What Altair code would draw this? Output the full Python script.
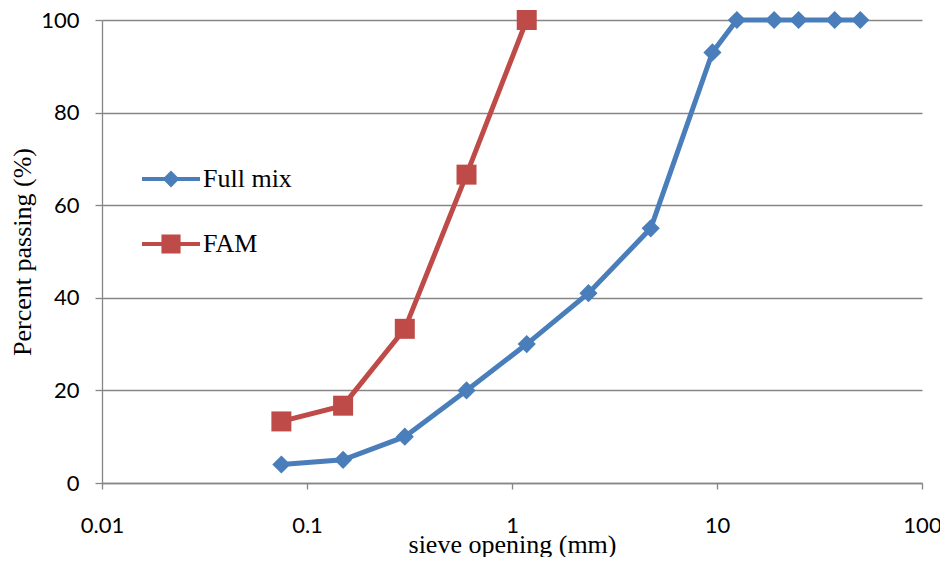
import altair as alt
import pandas as pd

sieve_full = [0.075, 0.15, 0.3, 0.6, 1.18, 2.36, 4.75, 9.5, 12.5, 19, 25, 37.5, 50]
pass_full = [4, 5, 10, 20, 30, 41, 55, 93, 100, 100, 100, 100, 100]
sieve_fam = [0.075, 0.15, 0.3, 0.6, 1.18]
pass_fam = [13.3, 16.7, 33.3, 66.6, 100]
series = ["Full mix", "FAM"]
colors = ["#4A7EBB", "#BE4B48"]
x_ticks = [0.01, 0.1, 1, 10, 100]
y_ticks = [0, 20, 40, 60, 80, 100]

df = pd.concat([
    pd.DataFrame({"sieve": sieve_full, "passing": pass_full, "series": "Full mix"}),
    pd.DataFrame({"sieve": sieve_fam, "passing": pass_fam, "series": "FAM"}),
])

TICK_FONT = "Lato"
SERIF = "Liberation Serif"

x_enc = alt.X("sieve:Q", scale=alt.Scale(type="log", domain=[0.01, 100], nice=False),
              axis=alt.Axis(values=x_ticks, title="sieve opening (mm)", grid=False,
                            labelExpr="datum.value >= 1 ? format(datum.value, 'd') : format(datum.value, '')",
                            labelFont=TICK_FONT, labelFontSize=22, labelColor="#000",
                            labelPadding=26, tickSize=6, tickColor="#868686", domainColor="#868686",
                            titleFont=SERIF, titleFontSize=26, titleFontWeight="normal", titleColor="#000",
                            titlePadding=-5, labelFlush=False))
y_enc = alt.Y("passing:Q", scale=alt.Scale(domain=[0, 100], nice=False),
              axis=alt.Axis(values=y_ticks, title="Percent passing (%)", grid=True, gridColor="#868686",
                            gridWidth=1.3, labelFont=TICK_FONT, labelFontSize=22, labelColor="#000",
                            labelPadding=16, tickSize=7, tickColor="#868686", domainColor="#868686",
                            titleFont=SERIF, titleFontSize=26, titleFontWeight="normal", titleColor="#000",
                            titlePadding=5))

# line/marker colour scale (domain listed in a different order than the legend scales,
# so that its hidden legend is not merged with the visible one)
color_scale = alt.Scale(domain=series[::-1], range=colors[::-1])

lines = alt.Chart(df).mark_line(strokeWidth=5).encode(
    x=x_enc, y=y_enc,
    color=alt.Color("series:N", scale=color_scale, legend=None),
    detail="series:N",
)

pts_full = alt.Chart(df).transform_filter(alt.datum.series == "Full mix").mark_point(
    filled=True, shape="diamond", size=330, opacity=1).encode(
    x="sieve:Q", y="passing:Q",
    color=alt.Color("series:N", scale=color_scale, legend=None))

pts_fam = alt.Chart(df).transform_filter(alt.datum.series == "FAM").mark_point(
    filled=True, shape="square", size=400, opacity=1).encode(
    x="sieve:Q", y="passing:Q",
    color=alt.Color("series:N", scale=color_scale, legend=None))

diamond_path = "M-1,-0.07L1,-0.07L1,0.07L-1,0.07Z M0,-0.29L0.29,0L0,0.29L-0.29,0Z"
square_path = "M-1,-0.07L1,-0.07L1,0.07L-1,0.07Z M-0.33,-0.33L0.33,-0.33L0.33,0.33L-0.33,0.33Z"

leg = alt.Legend(orient="none", legendX=40, legendY=130, symbolSize=3364,
                 labelFont=SERIF, labelFontSize=26, labelColor="#000",
                 labelOffset=3, rowPadding=23, padding=0, symbolStrokeWidth=0,
                 symbolOpacity=1)

legend_layer = alt.Chart(df).mark_point(filled=True, size=0).encode(
    x="sieve:Q", y="passing:Q",
    fill=alt.Fill("series:N", scale=alt.Scale(domain=series, range=colors), title=None, legend=leg),
    shape=alt.Shape("series:N", scale=alt.Scale(domain=series, range=[diamond_path, square_path]),
                    title=None, legend=leg),
)

chart = alt.layer(lines, pts_full, pts_fam, legend_layer).properties(
    width=820, height=463,
    padding={"left": 94, "top": 12, "right": 18, "bottom": 74},
    autosize=alt.AutoSizeParams(type="none"),
).configure_view(stroke=None).configure_axis(domainWidth=1.3, tickWidth=1.3)

chart.save("out.html", embed_options={"renderer": "svg", "actions": False})
